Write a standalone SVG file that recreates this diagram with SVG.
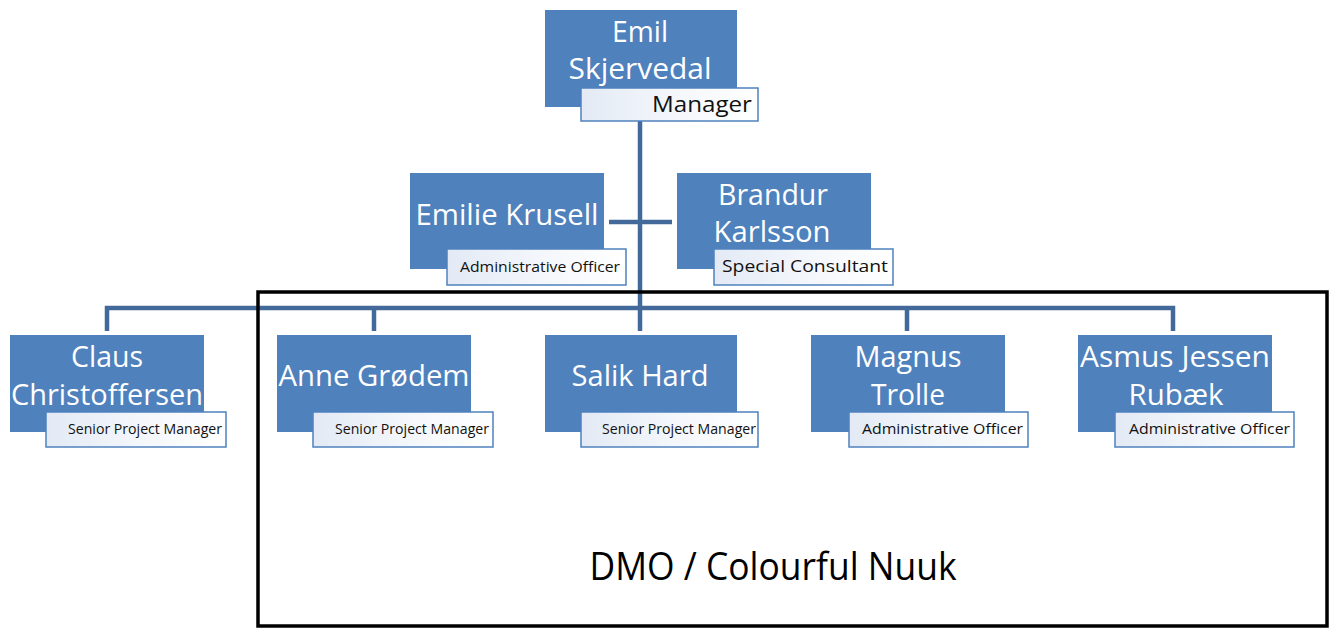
<svg xmlns="http://www.w3.org/2000/svg" width="1333" height="628" viewBox="0 0 1333 628">
<defs>
<linearGradient id="lg" x1="0" y1="0" x2="1" y2="0">
<stop offset="0" stop-color="#e3eaf5"/>
<stop offset="0.5" stop-color="#f3f6fb"/>
<stop offset="1" stop-color="#ffffff"/>
</linearGradient>
</defs>
<style>
.box{fill:#4f81bd}
.lab{fill:url(#lg);stroke:#4f81bd;stroke-width:1.5}
.nm{font-family:"Open Sans","Liberation Sans",sans-serif;font-size:30px;fill:#ffffff;text-anchor:middle}
.t{font-family:"Open Sans","Liberation Sans",sans-serif;fill:#111111;text-anchor:end}
.conn{stroke:#43699b;stroke-width:4.5;fill:none}
.frame{fill:none;stroke:#000000;stroke-width:3.5}
</style>
<rect width="1333" height="628" fill="#ffffff"/>
<g id="connectors">
<line class="conn" x1="640" y1="112" x2="640" y2="331"/>
<line class="conn" x1="609" y1="222" x2="672" y2="222"/>
<path class="conn" d="M107 331 V308 H1173 V331"/>
<line class="conn" x1="374" y1="308" x2="374" y2="331"/>
<line class="conn" x1="907" y1="308" x2="907" y2="331"/>
</g>
<rect id="dmo-frame" class="frame" x="258" y="292" width="1069" height="334"/>
<text id="dmo-label" x="773" y="580" font-family="Open Sans, Liberation Sans, sans-serif" font-size="38" fill="#000" text-anchor="middle" textLength="367" lengthAdjust="spacingAndGlyphs">DMO / Colourful Nuuk</text>
<g id="emil">
<rect class="box" x="545" y="10" width="192" height="97"/>
<text class="nm" x="640" y="42" textLength="56" lengthAdjust="spacingAndGlyphs">Emil</text>
<text class="nm" x="640" y="79" textLength="143" lengthAdjust="spacingAndGlyphs">Skjervedal</text>
<rect class="lab" x="581" y="88" width="177" height="33"/>
<text class="t" x="752" y="112" font-size="21" textLength="100" lengthAdjust="spacingAndGlyphs">Manager</text>
</g>
<g id="emilie">
<rect class="box" x="410" y="173" width="194" height="96"/>
<text class="nm" x="507" y="225" textLength="183" lengthAdjust="spacingAndGlyphs">Emilie Krusell</text>
<rect class="lab" x="447" y="249" width="179" height="36"/>
<text class="t" x="620" y="272" font-size="15" textLength="160" lengthAdjust="spacingAndGlyphs">Administrative Officer</text>
</g>
<g id="brandur">
<rect class="box" x="677" y="173" width="194" height="96"/>
<text class="nm" x="773" y="205" textLength="110" lengthAdjust="spacingAndGlyphs">Brandur</text>
<text class="nm" x="772" y="242" textLength="117" lengthAdjust="spacingAndGlyphs">Karlsson</text>
<rect class="lab" x="714" y="249" width="179" height="36"/>
<text class="t" x="888" y="272" font-size="16" textLength="166" lengthAdjust="spacingAndGlyphs">Special Consultant</text>
</g>
<g id="claus">
<rect class="box" x="10" y="335" width="194" height="97"/>
<text class="nm" x="107" y="367" textLength="72" lengthAdjust="spacingAndGlyphs">Claus</text>
<text class="nm" x="107" y="405" textLength="192" lengthAdjust="spacingAndGlyphs">Christoffersen</text>
<rect class="lab" x="46" y="412" width="180" height="35"/>
<text class="t" x="222" y="434" font-size="14" textLength="154" lengthAdjust="spacingAndGlyphs">Senior Project Manager</text>
</g>
<g id="anne">
<rect class="box" x="277" y="335" width="194" height="97"/>
<text class="nm" x="374" y="386" textLength="191" lengthAdjust="spacingAndGlyphs">Anne Grødem</text>
<rect class="lab" x="313" y="412" width="180" height="35"/>
<text class="t" x="489" y="434" font-size="14" textLength="154" lengthAdjust="spacingAndGlyphs">Senior Project Manager</text>
</g>
<g id="salik">
<rect class="box" x="545" y="335" width="192" height="97"/>
<text class="nm" x="640" y="386" textLength="137" lengthAdjust="spacingAndGlyphs">Salik Hard</text>
<rect class="lab" x="581" y="412" width="177" height="35"/>
<text class="t" x="756" y="434" font-size="14" textLength="154" lengthAdjust="spacingAndGlyphs">Senior Project Manager</text>
</g>
<g id="magnus">
<rect class="box" x="811" y="335" width="194" height="97"/>
<text class="nm" x="908" y="367" textLength="107" lengthAdjust="spacingAndGlyphs">Magnus</text>
<text class="nm" x="908" y="405" textLength="74" lengthAdjust="spacingAndGlyphs">Trolle</text>
<rect class="lab" x="849" y="412" width="179" height="35"/>
<text class="t" x="1023" y="434" font-size="15" textLength="161" lengthAdjust="spacingAndGlyphs">Administrative Officer</text>
</g>
<g id="asmus">
<rect class="box" x="1078" y="335" width="194" height="97"/>
<text class="nm" x="1175" y="367" textLength="190" lengthAdjust="spacingAndGlyphs">Asmus Jessen</text>
<text class="nm" x="1176" y="405" textLength="95" lengthAdjust="spacingAndGlyphs">Rubæk</text>
<rect class="lab" x="1115" y="412" width="179" height="35"/>
<text class="t" x="1290" y="434" font-size="15" textLength="161" lengthAdjust="spacingAndGlyphs">Administrative Officer</text>
</g>
</svg>
